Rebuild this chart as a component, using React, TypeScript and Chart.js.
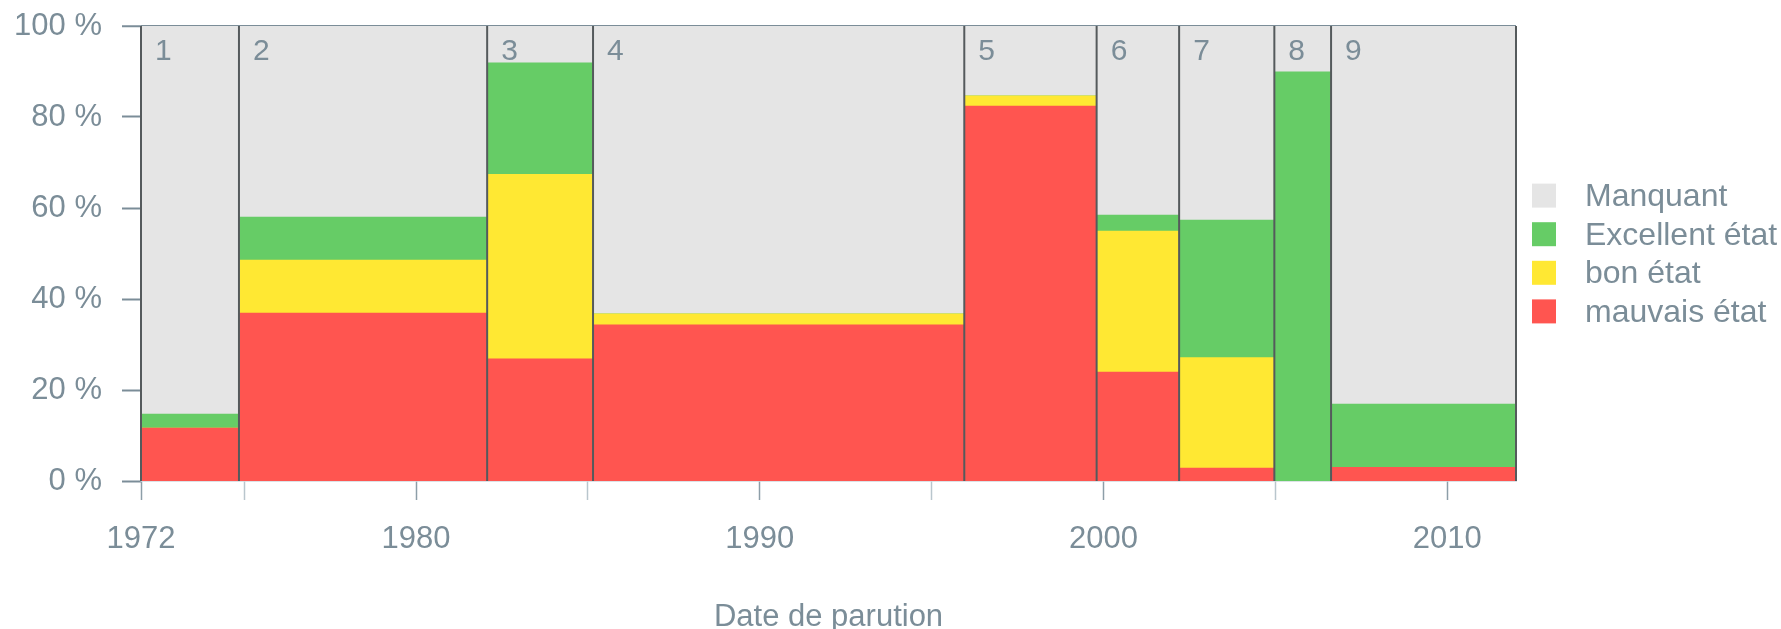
import React, { useEffect, useRef } from 'react';
import { Chart, registerables } from 'chart.js';

Chart.register(...registerables);

// ---- data ----
const periodBounds = [1972.0, 1974.85, 1982.07, 1985.15, 1995.95, 1999.8, 2002.2, 2004.97, 2006.62, 2012.0];
const periodLabels = ['1', '2', '3', '4', '5', '6', '7', '8', '9'];
const mauvaisEtat = [11.7, 37.0, 26.9, 34.4, 82.5, 24.0, 2.9, 0, 3.1];
const bonEtat = [0, 11.6, 40.6, 2.4, 2.2, 31.0, 24.3, 0, 0];
const excellentEtat = [3.1, 9.5, 24.5, 0, 0, 3.5, 30.2, 90.0, 13.9];
const manquant = [85.2, 41.9, 8.0, 63.2, 15.3, 41.5, 42.6, 10.0, 83.0];
const seriesNames = ['mauvais état', 'bon état', 'Excellent état', 'Manquant'];
const seriesColors = ['#ff5550', '#ffe833', '#66cc66', '#e5e5e5'];
const legendOrder = [3, 2, 1, 0];
const xTickValues = [1972, 1975, 1980, 1985, 1990, 1995, 2000, 2005, 2010];
const xTickLabels = ['1972', '', '1980', '', '1990', '', '2000', '', '2010'];
const yTickValues = [0, 20, 40, 60, 80, 100];
const xTitle = 'Date de parution';

const TEXT = '#7b8d98';
const FONT = '"Liberation Sans", Arial, Helvetica, sans-serif';

const series = [mauvaisEtat, bonEtat, excellentEtat, manquant];
const cumulative = series.map((_, k) =>
  periodLabels.map((__, i) => series.slice(0, k + 1).reduce((s, arr) => s + arr[i], 0))
);
const stepPoints = (tops: number[]) =>
  tops.flatMap((t, i) => [
    { x: periodBounds[i], y: t },
    { x: periodBounds[i + 1], y: t },
  ]);

const overlayPlugin = {
  id: 'overlayPlugin',
  afterDatasetsDraw(chart: any) {
    const { ctx, scales } = chart;
    const x = scales.x;
    const y = scales.y;
    const yTop = y.getPixelForValue(100);
    const yBot = y.getPixelForValue(0);
    ctx.save();
    ctx.strokeStyle = '#555a5c';
    ctx.lineWidth = 2;
    periodBounds.forEach((b) => {
      const px = x.getPixelForValue(b);
      ctx.beginPath();
      ctx.moveTo(px, yTop);
      ctx.lineTo(px, yBot);
      ctx.stroke();
    });
    ctx.fillStyle = TEXT;
    ctx.font = `30px ${FONT}`;
    ctx.textAlign = 'left';
    ctx.textBaseline = 'alphabetic';
    periodLabels.forEach((l, i) => {
      ctx.fillText(l, x.getPixelForValue(periodBounds[i]) + 14, yTop + 34);
    });
    ctx.restore();
  },
  afterDraw(chart: any) {
    const { ctx, chartArea } = chart;
    const cy = (chartArea.top + chartArea.bottom) / 2;
    ctx.save();
    legendOrder.forEach((k, row) => {
      const yc = cy + (row - 1.5) * 38.6;
      ctx.fillStyle = seriesColors[k];
      ctx.fillRect(chartArea.right + 16, yc - 12, 24, 24);
      ctx.fillStyle = TEXT;
      ctx.font = `32px ${FONT}`;
      ctx.textAlign = 'left';
      ctx.textBaseline = 'middle';
      ctx.fillText(seriesNames[k], chartArea.right + 69, yc + 1.5);
    });
    ctx.restore();
  },
};

export default function App() {
  const ref = useRef<HTMLCanvasElement | null>(null);

  useEffect(() => {
    if (!ref.current) return;
    const chart = new Chart(ref.current, {
      type: 'line',
      data: {
        datasets: series.map((_, k) => ({
          label: seriesNames[k],
          data: stepPoints(cumulative[k]),
          backgroundColor: seriesColors[k],
          borderColor: 'transparent',
          borderWidth: 0,
          pointRadius: 0,
          pointHoverRadius: 0,
          tension: 0,
          fill: 'origin',
        })),
      },
      options: {
        animation: false,
        responsive: true,
        maintainAspectRatio: false,
        events: [],
        layout: { padding: { left: 0, right: 265, top: 26, bottom: 0 } },
        plugins: {
          legend: { display: false },
          tooltip: { enabled: false },
        },
        scales: {
          x: {
            type: 'linear',
            min: 1972,
            max: 2012,
            z: 1,
            afterBuildTicks: (s: any) => {
              s.ticks = xTickValues.map((v) => ({ value: v }));
            },
            afterFit: (s: any) => {
              s.height = 148;
            },
            ticks: {
              autoSkip: false,
              maxRotation: 0,
              minRotation: 0,
              padding: 21,
              color: TEXT,
              font: { size: 31, family: FONT },
              callback: (v: any) => xTickLabels[xTickValues.indexOf(Number(v))] ?? '',
            },
            grid: {
              drawOnChartArea: false,
              drawTicks: true,
              tickLength: 19,
              tickWidth: 1.5,
              tickColor: (c: any) =>
                xTickLabels[xTickValues.indexOf(c.tick?.value)] ? '#8d9ea8' : '#b9c6cd',
            },
            border: { display: true, color: '#b9c6cd', width: 1.5 },
            title: {
              display: true,
              text: xTitle,
              color: TEXT,
              font: { size: 31, family: FONT, lineHeight: 1 },
              padding: { top: 0, bottom: -4 },
            },
          },
          y: {
            type: 'linear',
            min: 0,
            max: 100,
            z: 1,
            afterBuildTicks: (s: any) => {
              s.ticks = yTickValues.map((v) => ({ value: v }));
            },
            afterFit: (s: any) => {
              s.width = 141;
              s.paddingTop = 0;
              s.paddingBottom = 0;
            },
            ticks: {
              padding: 20,
              color: TEXT,
              font: { size: 31, family: FONT },
              callback: (v: any) => `${v} %`,
            },
            grid: {
              drawOnChartArea: true,
              drawTicks: true,
              tickLength: 19,
              tickWidth: 2,
              tickColor: TEXT,
              color: (c: any) => (c.tick && c.tick.value === 100 ? TEXT : 'transparent'),
              lineWidth: (c: any) => (c.tick && c.tick.value === 100 ? 2.5 : 1),
            },
            border: { display: false },
          },
        },
      },
      plugins: [overlayPlugin],
    });
    return () => chart.destroy();
  }, []);

  return (
    <div style={{ position: 'fixed', left: 0, top: 0, width: 1781, height: 629, background: '#fff' }}>
      <canvas ref={ref} />
    </div>
  );
}
